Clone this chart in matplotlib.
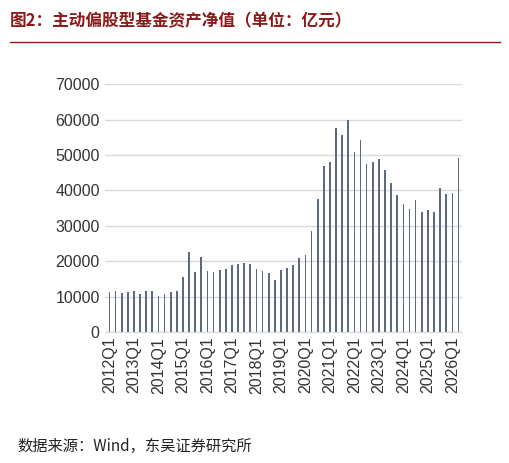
import matplotlib.pyplot as plt

plt.rcParams['font.family'] = ['Noto Sans CJK SC', 'DejaVu Sans']

# quarterly net asset value, 100 million yuan
values = [11270, 11450, 11080, 11270, 11450, 10800, 11550, 11450, 10230, 10700,
          11270, 11450, 15400, 22500, 17000, 21100, 17100, 16900, 17400, 17750,
          18970, 19150, 19440, 19150, 17840, 17180, 16530, 14740, 17560, 18030,
          18970, 21030, 21880, 28450, 37460, 46850, 48080, 57750, 55590, 59800,
          50890, 54370, 47600, 48170, 49010, 45900, 41970, 38690, 36150, 34740,
          37280, 33800, 34370, 33990, 40560, 38870, 39150, 49200]
years = list(range(2012, 2027))
tick_labels = [f"{y}Q1" for y in years]

fig = plt.figure(figsize=(5.1, 4.63), dpi=100)
ax = fig.add_axes([0.205, 0.283, 0.70, 0.535])

x = range(len(values))
ax.bar(x, values, width=0.28, color='#5b6a80', zorder=2)
ax.set_ylim(0, 70000)
ax.set_xlim(-0.8, len(values) - 0.5)
ax.set_yticks(range(0, 70001, 10000))
ax.yaxis.grid(True, color='#d9d9d9', linewidth=1, zorder=0)
ax.set_xticks(range(0, len(values), 4))
ax.set_xticklabels(tick_labels, rotation=90, fontsize=11.5, family='Liberation Sans')
for lab in ax.get_yticklabels():
    lab.set_fontsize(11.5)
    lab.set_family('Liberation Sans')
ax.tick_params(length=0, colors='#333333')
for s in ['top', 'right', 'left']:
    ax.spines[s].set_visible(False)
ax.spines['bottom'].set_color('#d9d9d9')

fig.text(0.02, 0.955, "图2：主动偏股型基金资产净值（单位：亿元）", fontsize=12,
         fontweight='bold', color='#8b1a1a', va='center')
fig.add_artist(plt.Line2D([0.02, 0.98], [0.91, 0.91], color='#8b1a1a', linewidth=1))
fig.text(0.035, 0.035, "数据来源：Wind，东吴证券研究所", fontsize=11, color='#222222', va='center')

fig.savefig('out.png', dpi=100)
